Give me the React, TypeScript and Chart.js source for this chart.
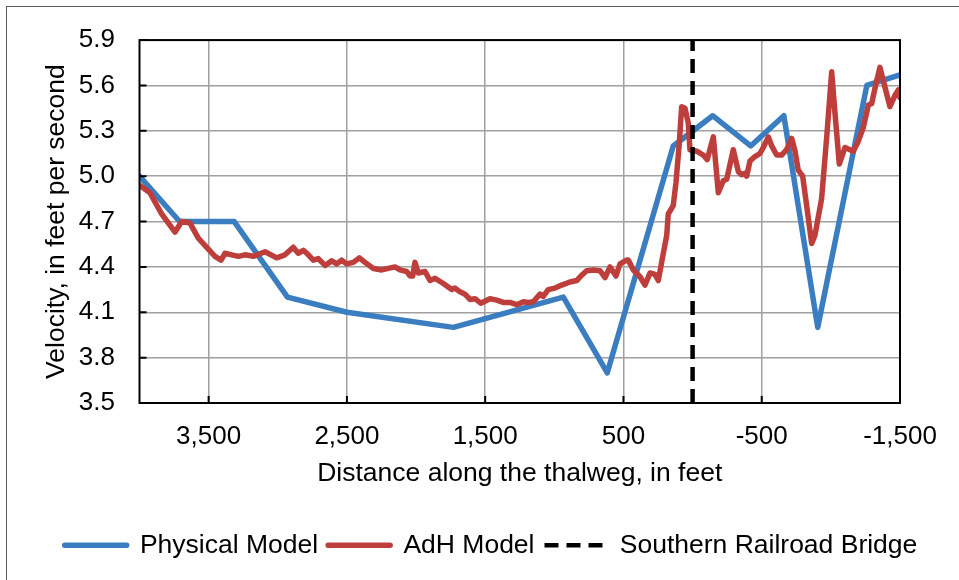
import React, { useEffect, useRef } from "react";
import { Chart, registerables } from "chart.js";

Chart.register(...registerables);

// ---- Data ----
const seriesLabels = ["Physical Model", "AdH Model", "Southern Railroad Bridge"];

const physicalX = [4000, 3710, 3315, 2930, 2500, 1730, 935, 617, 140, -145, -420, -660, -905, -1260, -1500];
const physicalY = [5.0, 4.7, 4.7, 4.2, 4.1, 4.0, 4.2, 3.7, 5.2, 5.4, 5.2, 5.4, 4.0, 5.6, 5.67];

const adhX = [
  4000, 3924, 3840, 3743, 3695, 3635, 3575, 3514, 3454, 3410, 3382, 3333, 3285, 3237, 3177, 3092, 3008, 2948,
  2888, 2852, 2815, 2779, 2743, 2707, 2658, 2610, 2574, 2538, 2502, 2454, 2410, 2369, 2309, 2248, 2201, 2152,
  2116, 2068, 2044, 2024, 2008, 1984, 1935, 1899, 1863, 1803, 1742, 1718, 1682, 1646, 1610, 1574, 1532, 1465,
  1417, 1369, 1321, 1272, 1224, 1188, 1152, 1104, 1080, 1044, 995, 947, 887, 838, 802, 766, 718, 670, 633, 597,
  554, 525, 477, 465, 429, 380, 344, 308, 272, 248, 224, 187, 176, 140, 120, 96, 79, 55, 31, 19, -30, -77, -106,
  -150, -186, -222, -247, -294, -331, -355, -379, -391, -415, -451, -487, -511, -548, -572, -608, -644, -680,
  -717, -741, -764, -796, -825, -861, -885, -933, -970, -1006, -1030, -1061, -1102, -1138, -1162, -1198, -1234,
  -1271, -1295, -1326, -1355, -1391, -1427, -1464, -1488, -1500,
];
const adhY = [
  4.94, 4.89, 4.75, 4.63, 4.7, 4.69, 4.59, 4.53, 4.47, 4.445, 4.49, 4.48, 4.47, 4.48, 4.47, 4.5, 4.46, 4.48,
  4.53, 4.49, 4.51, 4.48, 4.445, 4.455, 4.41, 4.44, 4.42, 4.445, 4.42, 4.43, 4.46, 4.43, 4.39, 4.38, 4.39, 4.4,
  4.38, 4.37, 4.34, 4.34, 4.43, 4.36, 4.37, 4.31, 4.325, 4.29, 4.25, 4.26, 4.235, 4.22, 4.185, 4.19, 4.16, 4.19,
  4.18, 4.165, 4.165, 4.15, 4.17, 4.165, 4.17, 4.22, 4.205, 4.25, 4.26, 4.28, 4.3, 4.31, 4.345, 4.375, 4.38, 4.375, 4.33, 4.4,
  4.34, 4.42, 4.445, 4.445, 4.38, 4.335, 4.28, 4.36, 4.35, 4.31, 4.43, 4.61, 4.75, 4.805, 4.96, 5.22, 5.46, 5.45, 5.35, 5.175, 5.165, 5.14, 5.11,
  5.26, 4.89, 4.97, 4.98, 5.175, 5.03, 5.01, 5.02, 5.0, 5.1, 5.13, 5.15, 5.19, 5.26, 5.2, 5.14, 5.14, 5.175,
  5.25, 5.165, 5.04, 5.0, 4.805, 4.555, 4.61, 4.85, 5.26, 5.69, 5.415, 5.08, 5.19, 5.175, 5.165, 5.23, 5.32,
  5.47, 5.48, 5.61, 5.72, 5.59, 5.46, 5.535, 5.57, 5.52,
];

const bridgeX = [0, 0];
const bridgeY = [3.5, 5.9];

const xTickValues = [3500, 2500, 1500, 500, -500, -1500];
const yTickValues = [3.5, 3.8, 4.1, 4.4, 4.7, 5.0, 5.3, 5.6, 5.9];

const xTitle = "Distance along the thalweg, in feet";
const yTitle = "Velocity, in feet per second";

const FONT_FAMILY = "'Liberation Sans', Arial, sans-serif";

const toPoints = (xs: number[], ys: number[]) => xs.map((x, i) => ({ x, y: ys[i] }));

const framePlugin = {
  id: "frame",
  afterDatasetsDraw(chart: any) {
    const { ctx, chartArea: a, scales } = chart;
    ctx.save();
    ctx.strokeStyle = "#000";
    ctx.lineWidth = 2;
    ctx.beginPath();
    yTickValues.forEach((v) => {
      const p = scales.y.getPixelForValue(v);
      ctx.moveTo(a.left, p);
      ctx.lineTo(a.left + 7, p);
    });
    xTickValues.forEach((v) => {
      const p = scales.x.getPixelForValue(v);
      ctx.moveTo(p, a.bottom);
      ctx.lineTo(p, a.bottom - 7);
    });
    ctx.stroke();
    ctx.strokeRect(a.left, a.top, a.right - a.left, a.bottom - a.top);
    ctx.restore();
  },
};

export default function App() {
  const ref = useRef<HTMLCanvasElement | null>(null);

  useEffect(() => {
    if (!ref.current) return;
    const tickFont = { family: FONT_FAMILY, size: 26 };
    const textFont = { family: FONT_FAMILY, size: 26.5 };
    const chart = new Chart(ref.current, {
      type: "line",
      data: {
        datasets: [
          {
            label: seriesLabels[0],
            data: toPoints(physicalX, physicalY),
            borderColor: "#3B7DC1",
            backgroundColor: "#3B7DC1",
            borderWidth: 5.5,
            pointRadius: 0,
            tension: 0,
            borderJoinStyle: "round",
            borderCapStyle: "round",
            order: 2,
          },
          {
            label: seriesLabels[1],
            data: toPoints(adhX, adhY),
            borderColor: "#BE3E3B",
            backgroundColor: "#BE3E3B",
            borderWidth: 5.5,
            pointRadius: 0,
            tension: 0,
            borderJoinStyle: "round",
            borderCapStyle: "round",
            order: 1,
          },
          {
            label: seriesLabels[2],
            data: toPoints(bridgeX, bridgeY),
            borderColor: "#000",
            backgroundColor: "#000",
            borderWidth: 4.5,
            borderDash: [14, 8],
            pointRadius: 0,
            tension: 0,
            borderCapStyle: "butt",
            order: 0,
          },
        ],
      },
      options: {
        animation: false,
        responsive: false,
        devicePixelRatio: 1,
        parsing: false,
        layout: { padding: { left: 23, right: 0, top: 36, bottom: 11.5 } },
        plugins: {
          legend: {
            position: "bottom",
            labels: {
              boxWidth: 62,
              boxHeight: 0,
              padding: 10,
              color: "#000",
              font: textFont,
              sort: (a: any, b: any) => a.datasetIndex - b.datasetIndex,
            },
          },
          tooltip: { enabled: false },
        },
        scales: {
          x: {
            type: "linear",
            reverse: true,
            min: -1500,
            max: 4000,
            afterBuildTicks: (s: any) => {
              s.ticks = xTickValues.map((v) => ({ value: v }));
            },
            afterFit: (s: any) => {
              s.height = 119;
            },
            grid: { color: "#a0a0a0", lineWidth: 1.5, drawTicks: false },
            border: { display: false },
            ticks: {
              padding: 18,
              color: "#000",
              font: tickFont,
              maxRotation: 0,
              autoSkip: false,
              callback: (v: any) => Number(v).toLocaleString("en-US"),
            },
            title: {
              display: true,
              text: xTitle,
              color: "#000",
              font: textFont,
              padding: { top: 0, bottom: 32 },
            },
          },
          y: {
            type: "linear",
            min: 3.5,
            max: 5.9,
            afterBuildTicks: (s: any) => {
              s.ticks = yTickValues.map((v) => ({ value: v }));
            },
            afterFit: (s: any) => {
              s.width = 116.5;
            },
            grid: { color: "#a0a0a0", lineWidth: 1.5, drawTicks: false },
            border: { display: false },
            ticks: {
              padding: 24.5,
              color: "#000",
              font: tickFont,
              callback: (v: any) => Number(v).toFixed(1),
            },
            title: {
              display: true,
              text: yTitle,
              color: "#000",
              font: textFont,
              padding: { top: 18, bottom: 0 },
            },
          },
          y2: {
            type: "linear",
            position: "right",
            display: true,
            grid: { display: false },
            border: { display: false },
            ticks: { display: false },
            afterFit: (s: any) => {
              s.width = 59;
            },
          },
        },
      } as any,
      plugins: [framePlugin],
    });
    return () => chart.destroy();
  }, []);

  return (
    <div style={{ position: "fixed", left: 0, top: 0, width: 959, height: 580, background: "#fff", overflow: "hidden" }}>
      <div
        style={{
          position: "absolute",
          left: 6,
          top: 6,
          width: 2000,
          height: 2000,
          borderLeft: "1.5px solid #595959",
          borderTop: "1.5px solid #595959",
        }}
      />
      <canvas ref={ref} width={959} height={580} style={{ position: "absolute", left: 0, top: 0, width: 959, height: 580 }} />
    </div>
  );
}
